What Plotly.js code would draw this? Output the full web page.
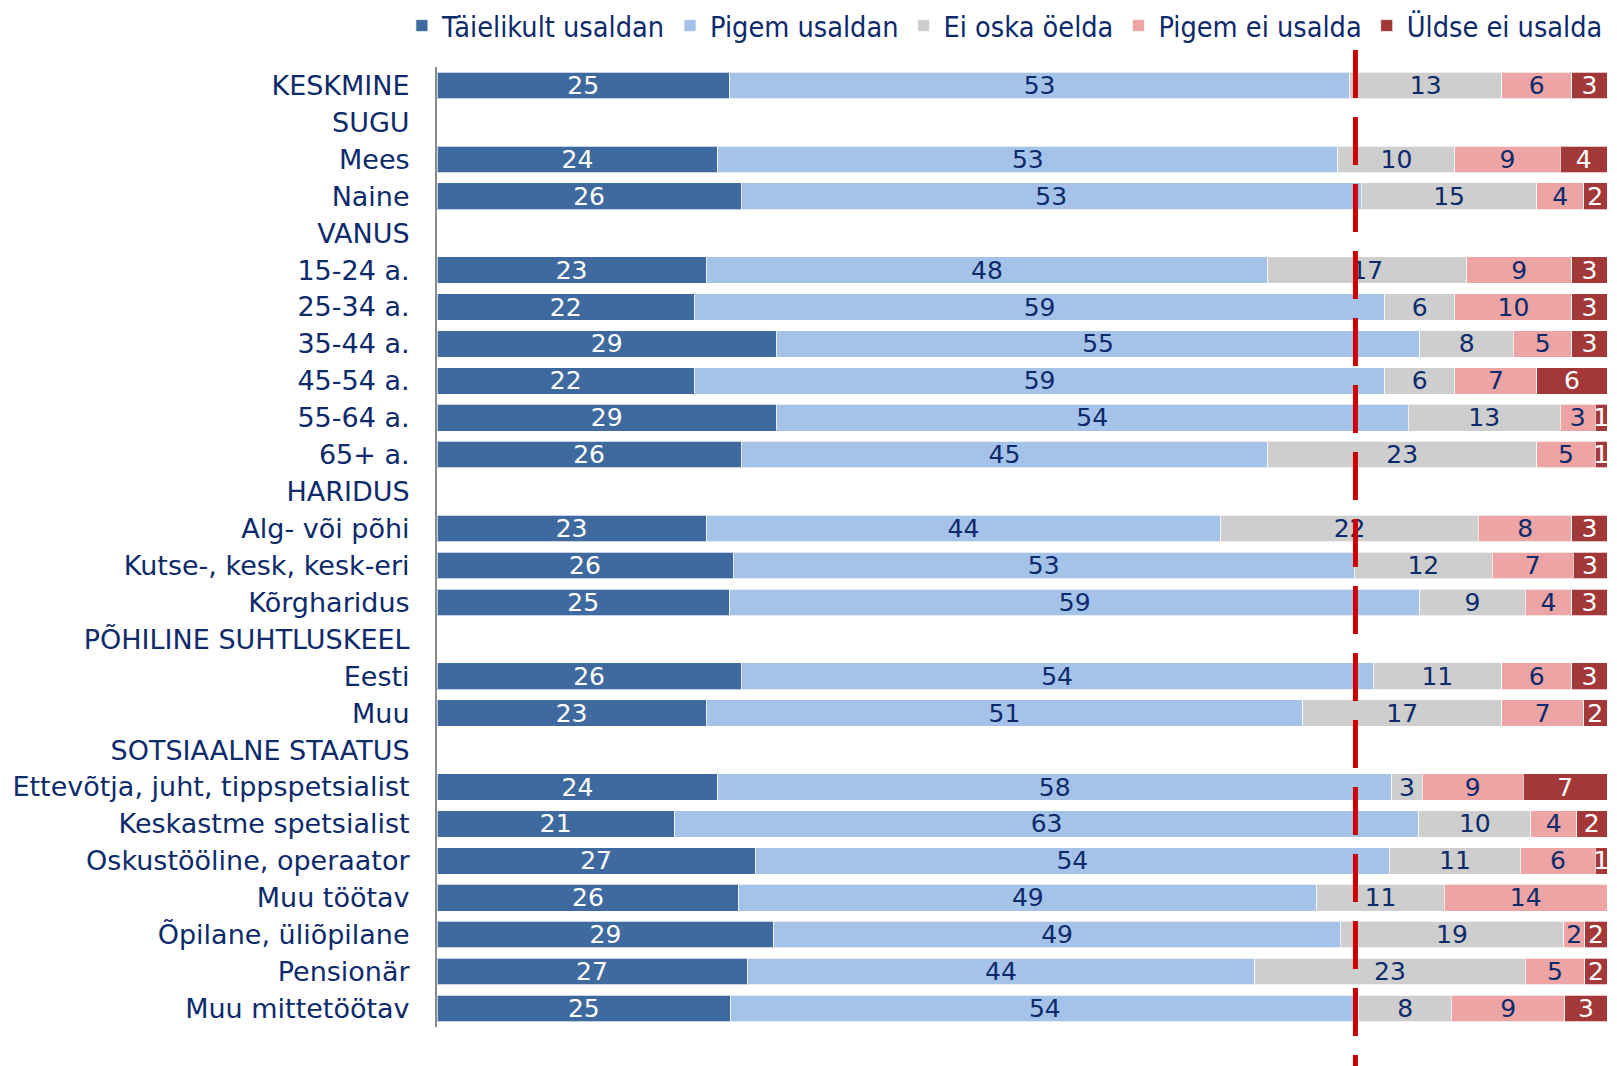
<!DOCTYPE html>
<html>
<head>
<meta charset="utf-8">
<script src="https://cdn.plot.ly/plotly-3.0.1.min.js"></script>
<style>html,body{margin:0;padding:0;background:#fff;}#chart{width:1617px;height:1066px;}</style>
</head>
<body>
<div id="chart"></div>
<script>
const categories = [
  "KESKMINE","SUGU","Mees","Naine","VANUS","15-24 a.","25-34 a.","35-44 a.","45-54 a.","55-64 a.","65+ a.",
  "HARIDUS","Alg- või põhi","Kutse-, kesk, kesk-eri","Kõrgharidus","PÕHILINE SUHTLUSKEEL","Eesti","Muu",
  "SOTSIAALNE STAATUS","Ettevõtja, juht, tippspetsialist","Keskastme spetsialist","Oskustööline, operaator",
  "Muu töötav","Õpilane, üliõpilane","Pensionär","Muu mittetöötav"
];
const seriesNames = ["Täielikult usaldan","Pigem usaldan","Ei oska öelda","Pigem ei usalda","Üldse ei usalda"];

// Printed (rounded) labels, as shown in the bars
const taielikultLabel = [25,null,24,26,null,23,22,29,22,29,26,null,23,26,25,null,26,23,null,24,21,27,26,29,27,25];
const pigemUsaldanLabel = [53,null,53,53,null,48,59,55,59,54,45,null,44,53,59,null,54,51,null,58,63,54,49,49,44,54];
const eiOskaLabel = [13,null,10,15,null,17,6,8,6,13,23,null,22,12,9,null,11,17,null,3,10,11,11,19,23,8];
const pigemEiLabel = [6,null,9,4,null,9,10,5,7,3,5,null,8,7,4,null,6,7,null,9,4,6,14,2,5,9];
const uldseEiLabel = [3,null,4,2,null,3,3,3,6,1,1,null,3,3,3,null,3,2,null,7,2,1,0,2,2,3];

// Bar lengths (%) (unrounded where the printed labels do not add up to 100)
const taielikult = [25,null,24,26,null,23,22,29,22,29,26,null,23,25.3,25,null,26,23,null,24.0,20.3,27.2,25.8,28.8,26.5,25.1];
const pigemUsaldan = [53,null,53,53,null,48,59,55,59,54,45,null,44,53.1,59,null,54,51,null,57.6,63.6,54.2,49.4,48.4,43.4,53.7];
const eiOska = [13,null,10,15,null,17,6,8,6,13,23,null,22,11.8,9,null,11,17,null,2.6,9.6,11.2,10.9,19.1,23.1,7.9];
const pigemEi = [6,null,9,4,null,9,10,5,7,3,5,null,8,6.9,4,null,6,7,null,8.65,3.9,6.4,13.9,1.8,5.1,9.7];
const uldseEi = [3,null,4,2,null,3,3,3,6,1,1,null,3,2.9,3,null,3,2,null,7.15,2.6,1.0,0,1.9,1.9,3.6];
const averageLine = 78.5;

const barValues = [taielikult, pigemUsaldan, eiOska, pigemEi, uldseEi];
const labelValues = [taielikultLabel, pigemUsaldanLabel, eiOskaLabel, pigemEiLabel, uldseEiLabel];
const colors = ["#3f6a9f","#a5c3e8","#cecece","#eca4a4","#a23838"];
const textColors = ["#ffffff","#0d2a6b","#0d2a6b","#0d2a6b","#ffffff"];
const FONT = "DejaVu Sans, Verdana, sans-serif";

const traces = barValues.map((v, i) => ({
  type: "bar",
  orientation: "h",
  name: seriesNames[i],
  y: categories,
  x: v,
  marker: {color: colors[i], line: {color: "rgba(255,255,255,0.7)", width: 1}},
  text: labelValues[i].map(d => d === null ? "" : String(d)),
  texttemplate: "%{text}",
  textposition: "inside",
  insidetextanchor: "middle",
  textangle: 0,
  insidetextfont: {family: FONT, size: 25, color: textColors[i]},
  cliponaxis: true,
  hoverinfo: "skip"
}));

const layout = {
  width: 1617, height: 1066,
  barmode: "stack",
  bargap: 0.28,
  paper_bgcolor: "#ffffff",
  plot_bgcolor: "#ffffff",
  margin: {l: 437, r: 10, t: 67, b: 39, autoexpand: false},
  font: {family: FONT, color: "#0d2a6b", size: 25},
  uniformtext: {mode: "show", minsize: 25},
  xaxis: {range: [0, 100], showgrid: false, zeroline: false, showticklabels: false, ticks: "", fixedrange: true},
  yaxis: {
    type: "category", autorange: "reversed", showgrid: false, zeroline: false,
    showline: true, linecolor: "#8a8a8a", linewidth: 2, ticks: "",
    ticklabelstandoff: 20,
    tickfont: {family: FONT, size: 27, color: "#0d2a6b"},
    fixedrange: true
  },
  showlegend: true,
  legend: {
    orientation: "h", xref: "paper", yref: "paper",
    x: -0.030, xanchor: "left", y: 1.0427, yanchor: "middle",
    font: {family: "DejaVu Sans Condensed, DejaVu Sans, sans-serif", size: 28.6, color: "#0d2a6b"},
    traceorder: "normal", itemwidth: 30, bgcolor: "rgba(0,0,0,0)"
  },
  shapes: [{
    type: "line", xref: "x", yref: "paper",
    x0: averageLine, x1: averageLine, y0: 1.0177, y1: -0.0406,
    line: {color: "#cc0000", width: 5, dash: "48px,19px"},
    layer: "above"
  }]
};

Plotly.newPlot("chart", traces, layout, {displayModeBar: false, staticPlot: true});
</script>
</body>
</html>
